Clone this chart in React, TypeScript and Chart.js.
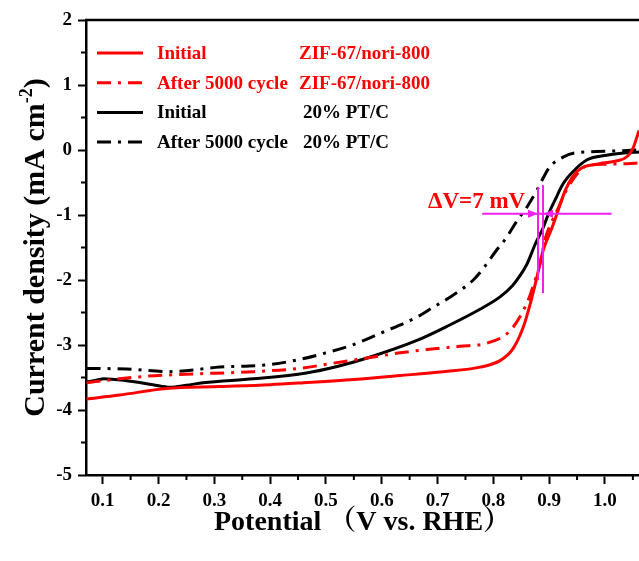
import React, { useEffect, useRef } from 'react';
import { Chart, registerables } from 'chart.js';

Chart.register(...registerables);

const SERIF = '"Times New Roman", "Liberation Serif", "Noto Serif CJK SC", "Noto Sans CJK SC", serif';
const RED = '#ff0000';
const BLACK = '#000000';
const MAGENTA = '#ee22ee';
const DASH_DOT = [14, 7, 3, 7];

// ZIF-67/nori-800, initial LSV scan
const zifInitialV = [0.071, 0.13, 0.214, 0.31, 0.4, 0.46, 0.55, 0.633, 0.71, 0.776, 0.812, 0.835, 0.853, 0.866, 0.878, 0.889, 0.905, 0.914, 0.93, 0.95, 0.99, 1.02, 1.04, 1.05, 1.061];
const zifInitialJ = [-3.83, -3.77, -3.67, -3.64, -3.61, -3.58, -3.53, -3.47, -3.41, -3.34, -3.24, -3.06, -2.74, -2.37, -1.96, -1.55, -1.2, -0.98, -0.6, -0.33, -0.21, -0.17, -0.1, 0.02, 0.3];

// ZIF-67/nori-800 after 5000 cycles
const zifCycledV = [0.071, 0.12, 0.179, 0.25, 0.37, 0.452, 0.513, 0.574, 0.633, 0.681, 0.74, 0.789, 0.83, 0.86, 0.871, 0.884, 0.893, 0.905, 0.916, 0.932, 0.95, 0.968, 1.0, 1.04, 1.061];
const zifCycledJ = [-3.58, -3.53, -3.48, -3.45, -3.41, -3.36, -3.28, -3.2, -3.12, -3.07, -3.02, -2.97, -2.78, -2.36, -2.1, -1.74, -1.36, -1.1, -0.9, -0.6, -0.37, -0.24, -0.22, -0.21, -0.2];

// 20% Pt/C, initial LSV scan
const ptInitialV = [0.071, 0.09, 0.102, 0.143, 0.19, 0.22, 0.25, 0.28, 0.37, 0.465, 0.52, 0.574, 0.663, 0.72, 0.776, 0.812, 0.835, 0.848, 0.86, 0.875, 0.889, 0.898, 0.91, 0.925, 0.943, 0.968, 1.003, 1.03, 1.061];
const ptInitialJ = [-3.57, -3.54, -3.52, -3.55, -3.61, -3.65, -3.62, -3.58, -3.52, -3.43, -3.33, -3.2, -2.93, -2.7, -2.45, -2.26, -2.08, -1.93, -1.76, -1.45, -1.2, -1.0, -0.78, -0.52, -0.33, -0.15, -0.08, -0.05, -0.03];

// 20% Pt/C after 5000 cycles
const ptCycledV = [0.071, 0.143, 0.22, 0.31, 0.4, 0.454, 0.5, 0.544, 0.603, 0.663, 0.692, 0.723, 0.764, 0.782, 0.805, 0.824, 0.84, 0.86, 0.878, 0.89, 0.901, 0.925, 0.943, 1.0, 1.061];
const ptCycledJ = [-3.36, -3.37, -3.41, -3.34, -3.3, -3.22, -3.12, -3.01, -2.8, -2.57, -2.42, -2.26, -2.0, -1.82, -1.55, -1.34, -1.12, -0.88, -0.62, -0.42, -0.26, -0.11, -0.05, -0.02, 0.0];

// Legend rows: condition, catalyst, colour, dash
const legendConditions = ['Initial', 'After 5000 cycle', 'Initial', 'After 5000 cycle'];
const legendCatalysts = ['ZIF-67/nori-800', 'ZIF-67/nori-800', '20% PT/C', '20% PT/C'];
const legendColors = [RED, RED, BLACK, BLACK];
const legendDashes = [[], DASH_DOT, [], DASH_DOT];

// Half-wave potential shift marker (data units)
const deltaLabel = 'ΔV=7 mV';
const deltaLabelV = 0.683;
const deltaLabelJ = -0.89;
const deltaGuideJ = -0.98;
const deltaGuideV = [0.78, 1.012];
const deltaMarkV = [0.88, 0.889];
const deltaMarkTopJ = [-0.57, -0.54];
const deltaMarkBottomJ = [-2.0, -2.2];
const deltaArrowTailV = [0.862, 0.912];

const pts = (xs: number[], ys: number[]) => xs.map((x, i) => ({ x, y: ys[i] }));

const decorPlugin = {
  id: 'decor',
  afterDatasetsDraw(chart: any) {
    const { ctx, scales } = chart;
    const xs = scales.x;
    const ys = scales.y;
    ctx.save();
    ctx.strokeStyle = MAGENTA;
    ctx.fillStyle = MAGENTA;
    ctx.lineWidth = 2;
    const gy = ys.getPixelForValue(deltaGuideJ);
    ctx.beginPath();
    ctx.moveTo(xs.getPixelForValue(deltaGuideV[0]), gy);
    ctx.lineTo(xs.getPixelForValue(deltaGuideV[1]), gy);
    ctx.stroke();
    deltaMarkV.forEach((v, i) => {
      const px = xs.getPixelForValue(v);
      ctx.beginPath();
      ctx.moveTo(px, ys.getPixelForValue(deltaMarkTopJ[i]));
      ctx.lineTo(px, ys.getPixelForValue(deltaMarkBottomJ[i]));
      ctx.stroke();
      // arrow head pointing at the marker
      const tail = xs.getPixelForValue(deltaArrowTailV[i]);
      const dir = px > tail ? 1 : -1;
      ctx.beginPath();
      ctx.moveTo(px, gy);
      ctx.lineTo(px - dir * 10, gy - 4);
      ctx.lineTo(px - dir * 10, gy + 4);
      ctx.closePath();
      ctx.fill();
    });
    ctx.fillStyle = RED;
    ctx.font = `bold 23px ${SERIF}`;
    ctx.textAlign = 'left';
    ctx.textBaseline = 'alphabetic';
    ctx.fillText(deltaLabel, xs.getPixelForValue(deltaLabelV), ys.getPixelForValue(deltaLabelJ));
    ctx.restore();
  },
  afterDraw(chart: any) {
    const { ctx, chartArea, scales } = chart;
    const xs = scales.x;
    const ys = scales.y;
    ctx.save();
    // top frame line
    ctx.strokeStyle = BLACK;
    ctx.lineWidth = 2.5;
    ctx.beginPath();
    ctx.moveTo(chartArea.left - 1, chartArea.top);
    ctx.lineTo(chartArea.right, chartArea.top);
    ctx.stroke();
    // minor ticks halfway between majors
    ctx.lineWidth = 2;
    const xt = xs.ticks.map((t: any) => t.value);
    const xStep = xt[1] - xt[0];
    [xt[0] - xStep, ...xt].forEach((v: number) => {
      const m = v + xStep / 2;
      if (m <= xs.min || m >= xs.max) return;
      const px = xs.getPixelForValue(m);
      ctx.beginPath();
      ctx.moveTo(px, chartArea.bottom);
      ctx.lineTo(px, chartArea.bottom + 5);
      ctx.stroke();
    });
    const yt = ys.ticks.map((t: any) => t.value);
    const yStep = yt[1] - yt[0];
    yt.forEach((v: number) => {
      const m = v + yStep / 2;
      if (m <= ys.min || m >= ys.max) return;
      const py = ys.getPixelForValue(m);
      ctx.beginPath();
      ctx.moveTo(chartArea.left, py);
      ctx.lineTo(chartArea.left - 5, py);
      ctx.stroke();
    });
    // legend
    const lx = chartArea.left + 11;
    const ly = chartArea.top + 33;
    ctx.font = `bold 19px ${SERIF}`;
    ctx.textBaseline = 'middle';
    ctx.textAlign = 'left';
    legendConditions.forEach((label, i) => {
      const y = ly + i * 29.7;
      ctx.strokeStyle = legendColors[i];
      ctx.lineWidth = 3;
      ctx.setLineDash(legendDashes[i]);
      ctx.beginPath();
      ctx.moveTo(lx, y);
      ctx.lineTo(lx + 46, y);
      ctx.stroke();
      ctx.setLineDash([]);
      ctx.fillStyle = legendColors[i];
      ctx.fillText(label, lx + 60, y + 1);
      ctx.fillText(legendCatalysts[i], lx + (i < 2 ? 202 : 206), y + 1);
    });
    // y-axis title with superscript
    ctx.translate(33, (chartArea.top + chartArea.bottom) / 2);
    ctx.rotate(-Math.PI / 2);
    ctx.fillStyle = BLACK;
    const main = 'Current density (mA cm';
    const sup = '-2';
    const close = ')';
    ctx.font = `bold 30px ${SERIF}`;
    const w1 = ctx.measureText(main).width;
    const w3 = ctx.measureText(close).width;
    ctx.font = `bold 18px ${SERIF}`;
    const w2 = ctx.measureText(sup).width;
    const x0 = -(w1 + w2 + w3) / 2;
    ctx.textBaseline = 'alphabetic';
    ctx.font = `bold 30px ${SERIF}`;
    ctx.fillText(main, x0, 11);
    ctx.fillText(close, x0 + w1 + w2, 11);
    ctx.font = `bold 18px ${SERIF}`;
    ctx.fillText(sup, x0 + w1, -1);
    ctx.restore();
  },
};

export default function App() {
  const ref = useRef<HTMLCanvasElement>(null);
  useEffect(() => {
    if (!ref.current) return;
    const tickFont = { family: SERIF, size: 19, weight: 'bold' as const };
    const chart = new Chart(ref.current, {
      type: 'line',
      data: {
        datasets: [
          { label: 'Initial ZIF-67/nori-800', data: pts(zifInitialV, zifInitialJ), borderColor: RED, borderWidth: 3 },
          { label: 'After 5000 cycle ZIF-67/nori-800', data: pts(zifCycledV, zifCycledJ), borderColor: RED, borderWidth: 3, borderDash: DASH_DOT },
          { label: 'Initial 20% PT/C', data: pts(ptInitialV, ptInitialJ), borderColor: BLACK, borderWidth: 3 },
          { label: 'After 5000 cycle 20% PT/C', data: pts(ptCycledV, ptCycledJ), borderColor: BLACK, borderWidth: 3, borderDash: DASH_DOT },
        ],
      },
      options: {
        responsive: false,
        animation: false,
        devicePixelRatio: 1,
        layout: { padding: { top: 20, left: 0, right: 0, bottom: 0 } },
        elements: {
          point: { radius: 0 },
          line: { tension: 0.4, cubicInterpolationMode: 'monotone', fill: false },
        },
        plugins: { legend: { display: false }, tooltip: { enabled: false } },
        scales: {
          x: {
            type: 'linear',
            min: 0.07,
            max: 1.061,
            ticks: {
              stepSize: 0.1,
              includeBounds: false,
              autoSkip: false,
              maxRotation: 0,
              padding: 6,
              color: BLACK,
              font: tickFont,
              callback: (v: any) => Number(v).toFixed(1),
            },
            grid: { display: true, drawOnChartArea: false, drawTicks: true, tickLength: 9, tickWidth: 2, tickColor: BLACK },
            border: { display: true, color: BLACK, width: 2.5 },
            title: {
              display: true,
              text: 'Potential （V vs. RHE）',
              color: BLACK,
              font: { family: SERIF, size: 28, weight: 'bold' },
              padding: { top: 0, bottom: 21 },
            },
            afterFit: (s: any) => { s.height = 86; },
          },
          y: {
            type: 'linear',
            min: -5,
            max: 2,
            ticks: {
              stepSize: 1,
              padding: 6,
              color: BLACK,
              font: tickFont,
              callback: (v: any) => String(v),
            },
            grid: { display: true, drawOnChartArea: false, drawTicks: true, tickLength: 8, tickWidth: 2, tickColor: BLACK },
            border: { display: true, color: BLACK, width: 2.5 },
            afterFit: (s: any) => { s.width = 86; },
          },
        },
      },
      plugins: [decorPlugin],
    } as any);
    return () => chart.destroy();
  }, []);
  return (
    <div style={{ position: 'fixed', left: 0, top: 0, width: 639, height: 561, background: '#fff' }}>
      <canvas ref={ref} width={639} height={561} style={{ display: 'block' }} />
    </div>
  );
}
